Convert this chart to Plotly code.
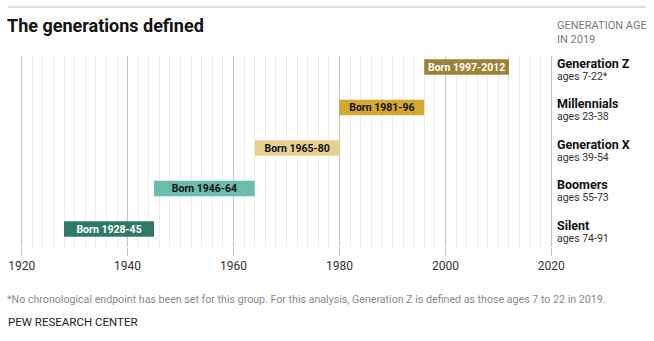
import plotly.graph_objects as go

# Generations, bottom to top
generations = ["Silent", "Boomers", "Generation X", "Millennials", "Generation Z"]
age_labels = ["ages 74-91", "ages 55-73", "ages 39-54", "ages 23-38", "ages 7-22*"]
born_start = [1928, 1946, 1965, 1981, 1997]
born_end = [1945, 1964, 1980, 1996, 2012]
bar_colors = ["#2f7a67", "#6cbcab", "#e8d08f", "#d4a82c", "#9d8135"]
text_colors = ["white", "#111111", "#111111", "#111111", "white"]
year_ticks = [1920, 1940, 1960, 1980, 2000, 2020]

# each bar runs from where the previous generation ends
bases = [born_start[0]] + born_end[:-1]
labels = [f"Born {s}-{str(e)[2:] if e < 2000 else e}" for s, e in zip(born_start, born_end)]
idx = list(range(len(generations)))

W, H = 654, 341
L, R, T, B = 19, 100, 56, 94

fig = go.Figure()
fig.add_trace(go.Bar(
    orientation="h",
    y=idx,
    x=[e - b for b, e in zip(bases, born_end)],
    base=bases,
    width=0.385,
    marker=dict(color=bar_colors, line=dict(width=0)),
    text=labels,
    textposition="inside",
    insidetextanchor="middle",
    constraintext="none",
    textfont=dict(family="Roboto", size=10.5, color=text_colors, weight="bold"),
    hoverinfo="skip",
    showlegend=False,
))

fig.update_layout(
    width=W, height=H,
    margin=dict(l=L, r=R, t=T, b=B, autoexpand=False),
    paper_bgcolor="white",
    plot_bgcolor="white",
    font=dict(family="Roboto", color="#333333"),
    xaxis=dict(
        range=[1919.5, 2020.5],
        tickvals=year_ticks,
        ticktext=[str(v) for v in year_ticks],
        showgrid=True, gridcolor="#c4c4c4", gridwidth=1,
        minor=dict(dtick=2, showgrid=True, gridcolor="#ececec", gridwidth=1),
        ticks="outside", ticklen=8, tickcolor="#c4c4c4", tickwidth=1,
        tickfont=dict(family="Roboto", size=12, color="#333333"),
        zeroline=False, showline=False, fixedrange=True, automargin=False,
    ),
    yaxis=dict(
        range=[-0.444, 4.272],
        showticklabels=False, showgrid=False, zeroline=False,
        showline=False, fixedrange=True, automargin=False,
    ),
)


def px_x(px):
    return (px - L) / (W - L - R)


def px_y(py):
    return 1 - (py - T) / (H - T - B)


# rule above the title
fig.add_shape(type="line", xref="paper", yref="paper",
              x0=px_x(8), x1=px_x(646), y0=px_y(7), y1=px_y(7),
              line=dict(color="#bdbdbd", width=1))

fig.add_annotation(text="<b>The generations defined</b>", xref="paper", yref="paper",
                   x=px_x(5), y=px_y(25), xanchor="left", yanchor="middle",
                   showarrow=False, font=dict(family="Roboto", size=18, color="#111111"))

fig.add_annotation(text="<span style='font-size:11px'>GENERATION AGE<br>IN 2019</span>",
                   xref="paper", yref="paper",
                   x=px_x(555), y=px_y(32), xanchor="left", yanchor="middle", align="left",
                   showarrow=False,
                   font=dict(family="Roboto", size=10.4, color="#7a7a7a"))

# generation names and ages beside each bar
for i, (name, ages) in enumerate(zip(generations, age_labels)):
    fig.add_annotation(
        text=(f"<span style='font-size:12.5px;color:#111111'><b>{name}</b></span><br>"
              f"<span style='font-size:10.5px;color:#333333'>{ages}</span>"),
        xref="paper", yref="y",
        x=px_x(555), y=i - 0.05, xanchor="left", yanchor="middle", align="left",
        showarrow=False, font=dict(family="Roboto", size=9, color="#333333"))

fig.add_annotation(text="*No chronological endpoint has been set for this group. For this analysis, "
                        "Generation Z is defined as those ages 7 to 22 in 2019.",
                   xref="paper", yref="paper", x=px_x(5), y=px_y(299),
                   xanchor="left", yanchor="middle", showarrow=False,
                   font=dict(family="Roboto", size=10.65, color="#8a8a8a"))

fig.add_annotation(text="PEW RESEARCH CENTER", xref="paper", yref="paper",
                   x=px_x(6), y=px_y(322), xanchor="left", yanchor="middle",
                   showarrow=False, font=dict(family="Roboto", size=11.5, color="#222222"))

fig.write_html("out.html")
